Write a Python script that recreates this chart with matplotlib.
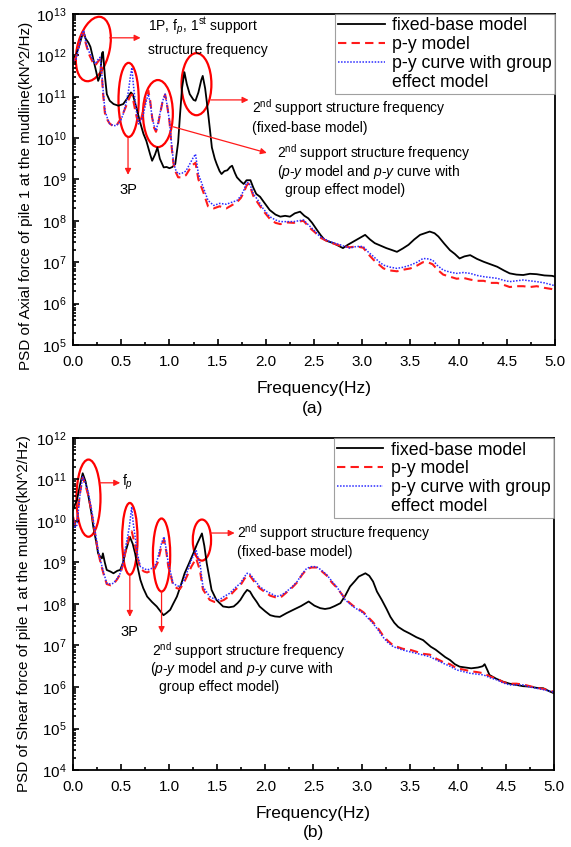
import numpy as np
import matplotlib
matplotlib.use("Agg")
import matplotlib.pyplot as plt
from matplotlib.patches import Ellipse
from matplotlib.lines import Line2D
from matplotlib.ticker import LogLocator, MultipleLocator

plt.rcParams['font.family'] = ['Liberation Sans', 'DejaVu Sans']
plt.rcParams['mathtext.fontset'] = 'custom'
plt.rcParams['mathtext.rm'] = 'Liberation Sans'
plt.rcParams['mathtext.it'] = 'Liberation Sans:italic'
plt.rcParams['mathtext.bf'] = 'Liberation Sans:bold'

axial_freq_fixed = [0.0, 0.03, 0.06, 0.09, 0.11, 0.13, 0.16, 0.18, 0.21, 0.24, 0.26, 0.28, 0.30, 0.31,
                    0.33, 0.35, 0.38, 0.42, 0.47, 0.52, 0.56, 0.60, 0.62, 0.66, 0.70, 0.73, 0.76, 0.80,
                    0.82, 0.85, 0.875, 0.90, 0.94, 0.97, 1.00, 1.03, 1.06, 1.09, 1.11, 1.13, 1.155, 1.18,
                    1.21, 1.25, 1.27, 1.30, 1.33, 1.345, 1.37, 1.39, 1.42, 1.44, 1.47, 1.49, 1.52, 1.54,
                    1.57, 1.60, 1.63, 1.65, 1.68, 1.70, 1.74, 1.77, 1.80, 1.84, 1.87, 1.90, 1.94, 1.98,
                    2.04, 2.10, 2.15, 2.20, 2.25, 2.30, 2.355, 2.40, 2.44, 2.48, 2.53, 2.57, 2.61, 2.65,
                    2.70, 2.75, 2.80, 2.85, 2.91, 2.97, 3.03, 3.08, 3.13, 3.19, 3.25, 3.30, 3.36, 3.42,
                    3.48, 3.54, 3.60, 3.65, 3.70, 3.75, 3.79, 3.85, 3.91, 3.96, 4.01, 4.06, 4.12, 4.19,
                    4.26, 4.33, 4.40, 4.47, 4.53, 4.60, 4.67, 4.74, 4.81, 4.89, 4.97, 5.0]
axial_fixed = [11.9, 12.0, 12.2, 12.45, 12.55, 12.4, 12.3, 12.2, 11.9, 11.6, 11.38, 11.5, 12.05, 12.08,
               11.5, 11.06, 10.9, 10.82, 10.78, 10.82, 10.95, 11.1, 11.05, 10.7, 10.34, 10.1, 9.93, 9.6,
               9.45, 9.6, 9.77, 9.5, 9.29, 9.3, 9.27, 9.3, 9.37, 9.9, 10.58, 11.2, 11.59, 11.3,
               11.06, 10.92, 10.9, 11.1, 11.4, 11.5, 11.2, 10.82, 10.2, 9.77, 9.5, 9.37, 9.2, 9.13,
               9.2, 9.22, 9.3, 9.33, 9.15, 9.05, 8.95, 8.89, 8.98, 8.98, 8.8, 8.65, 8.58, 8.45,
               8.26, 8.15, 8.10, 8.12, 8.10, 8.18, 8.22, 8.12, 8.06, 7.95, 7.78, 7.65, 7.54, 7.5,
               7.46, 7.40, 7.34, 7.42, 7.50, 7.58, 7.66, 7.55, 7.46, 7.4, 7.34, 7.3, 7.25, 7.33,
               7.42, 7.55, 7.66, 7.7, 7.74, 7.7, 7.62, 7.45, 7.29, 7.2, 7.09, 7.14, 7.17, 7.08,
               7.01, 6.95, 6.89, 6.8, 6.73, 6.7, 6.69, 6.72, 6.71, 6.68, 6.67, 6.65]

axial_freq_py = [0.0, 0.03, 0.06, 0.09, 0.11, 0.13, 0.16, 0.18, 0.21, 0.23, 0.26, 0.28, 0.30, 0.31,
                 0.33, 0.36, 0.38, 0.42, 0.45, 0.49, 0.52, 0.555, 0.575, 0.595, 0.61, 0.625, 0.64, 0.66,
                 0.68, 0.71, 0.73, 0.76, 0.78, 0.80, 0.82, 0.84, 0.86, 0.88, 0.90, 0.93, 0.955, 0.975,
                 1.00, 1.02, 1.04, 1.06, 1.09, 1.13, 1.17, 1.21, 1.24, 1.27, 1.30, 1.35, 1.40, 1.46,
                 1.52, 1.59, 1.65, 1.70, 1.74, 1.77, 1.80, 1.82, 1.84, 1.87, 1.92, 1.97, 2.04, 2.10,
                 2.15, 2.22, 2.29, 2.34, 2.39, 2.46, 2.51, 2.56, 2.66, 2.77, 2.87, 2.94, 3.01, 3.06,
                 3.12, 3.17, 3.22, 3.29, 3.36, 3.43, 3.50, 3.57, 3.63, 3.68, 3.73, 3.78, 3.84, 3.91,
                 3.98, 4.05, 4.12, 4.19, 4.26, 4.33, 4.40, 4.47, 4.53, 4.60, 4.67, 4.74, 4.81, 4.89,
                 4.97, 5.0]
axial_py = [11.85, 11.95, 12.25, 12.5, 12.55, 12.3, 12.05, 11.95, 11.8, 11.75, 11.85, 11.9, 11.45, 11.1,
            10.6, 10.42, 10.35, 10.28, 10.3, 10.45, 10.6, 10.8, 10.92, 11.02, 11.05, 10.9, 10.72, 10.5,
            10.35, 10.5, 10.7, 11.0, 11.15, 10.9, 10.5, 10.25, 10.15, 10.3, 10.55, 10.9, 11.05, 10.8,
            10.4, 9.85, 9.4, 9.2, 9.05, 9.05, 9.1, 9.25, 9.35, 9.4, 9.0, 8.7, 8.35, 8.3,
            8.35, 8.3, 8.38, 8.45, 8.55, 8.68, 8.85, 8.9, 8.8, 8.6, 8.42, 8.25, 8.05, 7.95,
            7.92, 7.96, 7.95, 7.98, 8.0, 7.82, 7.72, 7.6, 7.48, 7.4, 7.36, 7.38, 7.35, 7.2,
            7.05, 6.95, 6.85, 6.8, 6.78, 6.82, 6.85, 6.92, 7.0, 7.0, 6.95, 6.82, 6.7, 6.65,
            6.6, 6.62, 6.58, 6.55, 6.55, 6.5, 6.5, 6.45, 6.4, 6.42, 6.42, 6.4, 6.42, 6.38,
            6.35, 6.33]
axial_group = [11.87, 11.9, 12.2, 12.5, 12.6, 12.35, 12.1, 12.03, 11.85, 11.79, 11.9, 11.95, 11.5, 11.2,
               10.66, 10.45, 10.34, 10.3, 10.3, 10.4, 10.58, 10.9, 11.14, 11.5, 11.7, 11.3, 10.98, 10.6,
               10.34, 10.45, 10.58, 10.9, 11.06, 10.85, 10.5, 10.3, 10.18, 10.35, 10.58, 10.9, 11.06, 10.8,
               10.42, 9.9, 9.45, 9.25, 9.13, 9.15, 9.2, 9.37, 9.5, 9.61, 9.13, 8.81, 8.49, 8.37,
               8.42, 8.4, 8.45, 8.49, 8.6, 8.73, 8.93, 8.92, 8.85, 8.65, 8.49, 8.3, 8.10, 8.02,
               7.98, 7.98, 7.98, 8.0, 8.02, 7.86, 7.75, 7.62, 7.50, 7.42, 7.34, 7.38, 7.38, 7.25,
               7.13, 7.02, 6.93, 6.88, 6.85, 6.88, 6.93, 7.0, 7.09, 7.08, 7.05, 6.92, 6.81, 6.76,
               6.73, 6.75, 6.73, 6.68, 6.65, 6.63, 6.61, 6.56, 6.53, 6.55, 6.57, 6.55, 6.53, 6.5,
               6.45, 6.43]

# ---- (b) shear force ----
shear_freq_fixed = [0.0, 0.02, 0.04, 0.07, 0.10, 0.13, 0.16, 0.19, 0.21, 0.24, 0.26, 0.28, 0.30, 0.31,
                    0.33, 0.35, 0.39, 0.42, 0.46, 0.49, 0.52, 0.54, 0.57, 0.59, 0.62, 0.645, 0.67, 0.70,
                    0.73, 0.77, 0.82, 0.87, 0.91, 0.94, 0.97, 1.01, 1.04, 1.08, 1.12, 1.16, 1.20, 1.25,
                    1.29, 1.34, 1.365, 1.39, 1.42, 1.44, 1.49, 1.56, 1.62, 1.67, 1.71, 1.74, 1.78, 1.81,
                    1.84, 1.87, 1.91, 1.94, 2.00, 2.05, 2.10, 2.15, 2.22, 2.29, 2.37, 2.45, 2.51, 2.57,
                    2.62, 2.67, 2.72, 2.78, 2.83, 2.88, 2.93, 2.97, 3.04, 3.08, 3.12, 3.16, 3.21, 3.26,
                    3.30, 3.34, 3.38, 3.44, 3.50, 3.57, 3.64, 3.72, 3.77, 3.82, 3.87, 3.92, 3.97, 4.02,
                    4.08, 4.14, 4.21, 4.26, 4.28, 4.31, 4.33, 4.40, 4.47, 4.54, 4.61, 4.68, 4.75, 4.82,
                    4.89, 4.95, 5.0]
shear_fixed = [10.27, 10.4, 10.5, 10.85, 11.15, 10.95, 10.59, 10.2, 9.86, 9.5, 9.22, 9.15, 9.10, 9.22,
               9.0, 8.82, 8.78, 8.74, 8.8, 8.82, 9.0, 9.22, 9.45, 9.62, 9.45, 9.22, 8.9, 8.58,
               8.38, 8.18, 8.05, 7.94, 7.82, 7.73, 7.78, 7.86, 8.0, 8.18, 8.45, 8.74, 8.95, 9.22,
               9.45, 9.70, 9.4, 8.98, 8.6, 8.34, 8.10, 7.94, 7.92, 7.94, 8.02, 8.10, 8.25, 8.34,
               8.3, 8.18, 8.05, 7.94, 7.82, 7.73, 7.70, 7.69, 7.78, 7.86, 7.95, 8.06, 7.96, 7.90,
               7.88, 7.90, 7.95, 8.02, 8.2, 8.42, 8.55, 8.66, 8.74, 8.68, 8.54, 8.3, 8.10, 7.88,
               7.69, 7.55, 7.45, 7.36, 7.29, 7.2, 7.13, 6.97, 6.9, 6.81, 6.72, 6.65, 6.55, 6.49,
               6.47, 6.45, 6.47, 6.5, 6.55, 6.4, 6.29, 6.2, 6.13, 6.08, 6.05, 6.02, 6.01, 5.98,
               5.97, 5.9, 5.85]

shear_freq_py = [0.0, 0.02, 0.04, 0.07, 0.10, 0.13, 0.16, 0.19, 0.21, 0.24, 0.26, 0.29, 0.32, 0.35,
                 0.39, 0.42, 0.46, 0.49, 0.52, 0.54, 0.565, 0.585, 0.61, 0.625, 0.645, 0.67, 0.70, 0.74,
                 0.77, 0.81, 0.85, 0.88, 0.90, 0.925, 0.946, 0.97, 0.99, 1.02, 1.04, 1.08, 1.11, 1.15,
                 1.18, 1.23, 1.28, 1.30, 1.32, 1.35, 1.42, 1.47, 1.52, 1.57, 1.63, 1.69, 1.74, 1.78,
                 1.81, 1.84, 1.88, 1.94, 2.00, 2.05, 2.12, 2.17, 2.22, 2.28, 2.33, 2.38, 2.43, 2.48,
                 2.53, 2.58, 2.64, 2.69, 2.74, 2.79, 2.83, 2.91, 2.97, 3.02, 3.07, 3.12, 3.17, 3.22,
                 3.27, 3.33, 3.43, 3.50, 3.57, 3.64, 3.71, 3.78, 3.85, 3.92, 3.99, 4.06, 4.13, 4.20,
                 4.27, 4.34, 4.41, 4.47, 4.54, 4.61, 4.68, 4.75, 4.82, 4.90, 4.98, 5.0]
shear_py = [10.1, 9.9, 10.0, 10.65, 11.05, 10.85, 10.6, 10.25, 9.95, 9.55, 9.25, 8.95, 8.7, 8.48,
            8.45, 8.48, 8.6, 8.72, 8.95, 9.2, 9.45, 9.65, 9.75, 9.6, 9.4, 9.1, 8.85, 8.78,
            8.76, 8.8, 8.85, 9.0, 9.2, 9.45, 9.55, 9.25, 8.9, 8.65, 8.45, 8.38, 8.36, 8.5,
            8.65, 8.9, 9.1, 8.95, 8.8, 8.35, 8.1, 8.05, 8.05, 8.1, 8.2, 8.35, 8.45, 8.6,
            8.7, 8.68, 8.55, 8.38, 8.28, 8.2, 8.15, 8.18, 8.28, 8.4, 8.52, 8.7, 8.84, 8.88,
            8.88, 8.8, 8.68, 8.52, 8.4, 8.25, 8.12, 7.96, 7.88, 7.8, 7.68, 7.56, 7.42, 7.25,
            7.12, 7.0, 6.92, 6.9, 6.85, 6.8, 6.78, 6.68, 6.6, 6.55, 6.45, 6.42, 6.38, 6.36,
            6.33, 6.25, 6.2, 6.12, 6.08, 6.08, 6.06, 6.02, 5.98, 5.95, 5.9, 5.88]
shear_group = [10.10, 9.85, 9.9, 10.6, 11.07, 10.9, 10.67, 10.3, 10.02, 9.6, 9.3, 9.0, 8.74, 8.5,
               8.48, 8.5, 8.62, 8.74, 9.0, 9.30, 9.6, 9.86, 10.34, 9.95, 9.62, 9.2, 8.90, 8.85,
               8.82, 8.85, 8.90, 9.1, 9.30, 9.5, 9.62, 9.3, 8.98, 8.7, 8.50, 8.44, 8.42, 8.55,
               8.74, 9.06, 9.30, 9.1, 8.98, 8.42, 8.18, 8.12, 8.10, 8.18, 8.26, 8.4, 8.50, 8.65,
               8.74, 8.72, 8.6, 8.42, 8.32, 8.26, 8.18, 8.22, 8.30, 8.42, 8.54, 8.72, 8.86, 8.9,
               8.90, 8.82, 8.70, 8.55, 8.42, 8.25, 8.10, 7.94, 7.85, 7.78, 7.65, 7.53, 7.38, 7.21,
               7.08, 6.97, 6.89, 6.85, 6.81, 6.77, 6.73, 6.65, 6.57, 6.5, 6.41, 6.37, 6.33, 6.31,
               6.29, 6.22, 6.17, 6.1, 6.05, 6.05, 6.05, 6.0, 5.97, 5.93, 5.89, 5.87]

legend_labels = ['fixed-base model', 'p-y model', 'p-y curve with group', 'effect model']
xticks = [0.0, 0.5, 1.0, 1.5, 2.0, 2.5, 3.0, 3.5, 4.0, 4.5, 5.0]

RED = '#ff1a1a'
BLUE = '#2a2aff'


def style_axes(ax, ymin, ymax):
    ax.set_yscale('log')
    ax.set_xlim(0, 5)
    ax.set_ylim(10.0 ** ymin, 10.0 ** ymax)
    ax.set_xticks(xticks)
    ax.set_xticklabels([f'{t:.1f}' for t in xticks])
    ax.xaxis.set_minor_locator(MultipleLocator(0.25))
    ax.yaxis.set_major_locator(LogLocator(base=10, numticks=100))
    ax.yaxis.set_minor_locator(LogLocator(base=10, subs=np.arange(2, 10), numticks=100))
    ax.tick_params(which='both', direction='in', top=False, right=False, labelsize=11, width=1.2)
    ax.tick_params(which='major', length=4.5)
    ax.tick_params(axis='x', which='major', pad=7)
    ax.tick_params(axis='y', which='major', pad=5)
    ax.tick_params(which='minor', length=2.5)
    for s in ax.spines.values():
        s.set_linewidth(1.3)


def draw_lines(ax, f_fix, fixed, f_py, py, group):
    ax.plot(f_fix, 10.0 ** np.array(fixed), color='black', lw=1.3)
    ax.plot(f_py, 10.0 ** np.array(py), color=RED, lw=1.5, ls=(0, (4, 2.5)))
    ax.plot(f_py, 10.0 ** np.array(group), color=BLUE, lw=1.1, ls=(0, (1, 1)))
    handles = [Line2D([], [], color='black', lw=1.3),
               Line2D([], [], color=RED, lw=1.5, ls=(0, (4, 2.5))),
               Line2D([], [], color=BLUE, lw=1.1, ls=(0, (1, 1))),
               Line2D([], [], color='none')]
    leg = ax.legend(handles, legend_labels, loc='upper right', fontsize=12.8, frameon=True,
                    fancybox=False, borderaxespad=0, handlelength=2.6, handletextpad=0.4,
                    labelspacing=0.1, borderpad=0.2)
    leg.get_frame().set_edgecolor('#888888')
    leg.get_frame().set_linewidth(0.8)


def ellipse(ax, f, e, w, h, ymin, angle=0):
    # f, e: centre in Hz / decade; w, h: size in Hz / decades
    el = Ellipse((f / 5.0, (e - ymin) / 8.0), w / 5.0, h / 8.0, angle=angle,
                 transform=ax.transAxes, fill=False, ec='red', lw=1.6)
    ax.add_patch(el)


def arrow(ax, f0, e0, f1, e1):
    ax.annotate('', xy=(f1, 10.0 ** e1), xytext=(f0, 10.0 ** e0),
                arrowprops=dict(arrowstyle='-|>', color=RED, lw=0.9, mutation_scale=9,
                                shrinkA=0, shrinkB=0))


def note(ax, f, e, s, **kw):
    ax.text(f, 10.0 ** e, s, fontsize=10, va='center', ha='left', **kw)


fig = plt.figure(figsize=(5.71, 8.47), dpi=100)
ax1 = fig.add_axes([0.128, 0.5927, 0.844, 0.391])
ax2 = fig.add_axes([0.128, 0.0909, 0.842, 0.392])

# ---- panel (a) ----
style_axes(ax1, 5, 13)
draw_lines(ax1, axial_freq_fixed, axial_fixed, axial_freq_py, axial_py, axial_group)
ax1.set_ylabel('PSD of Axial force of pile 1 at the mudline(kN^2/Hz)', fontsize=11)
ax1.yaxis.set_label_coords(-0.083, 0.45)
ax1.set_xlabel('Frequency(Hz)', fontsize=12.5)
ax1.xaxis.set_label_coords(0.5, -0.11)

ellipse(ax1, 0.21, 12.15, 0.34, 1.57, 5, angle=-8)
ellipse(ax1, 0.576, 10.92, 0.21, 1.79, 5)
ellipse(ax1, 0.88, 10.59, 0.31, 1.62, 5)
ellipse(ax1, 1.28, 11.3, 0.31, 1.5, 5)

arrow(ax1, 0.38, 12.42, 0.70, 12.42)
note(ax1, 0.78, 12.7, '1P, f$_{\\mathit{p}}$, 1$^{\\mathrm{st}}$ support')
note(ax1, 0.78, 12.13, 'structure frequency')
arrow(ax1, 0.57, 10.02, 0.57, 9.11)
ax1.text(0.57, 10.0 ** 8.74, '3P', fontsize=10.5, ha='center', va='center')
arrow(ax1, 1.04, 10.27, 2.01, 9.64)
note(ax1, 2.12, 9.66, '2$^{\\mathrm{nd}}$ support structure frequency')
note(ax1, 2.12, 9.19, '($\\mathit{p}$-$\\mathit{y}$ model and $\\mathit{p}$-$\\mathit{y}$ curve with')
note(ax1, 2.20, 8.74, 'group effect model)')
arrow(ax1, 1.43, 10.92, 1.82, 10.92)
note(ax1, 1.86, 10.74, '2$^{\\mathrm{nd}}$ support structure frequency')
note(ax1, 1.86, 10.24, '(fixed-base model)')

# ---- panel (b) ----
style_axes(ax2, 4, 12)
draw_lines(ax2, shear_freq_fixed, shear_fixed, shear_freq_py, shear_py, shear_group)
ax2.set_ylabel('PSD of Shear force of pile 1 at the mudline(kN^2/Hz)', fontsize=11)
ax2.yaxis.set_label_coords(-0.088, 0.47)
ax2.set_xlabel('Frequency(Hz)', fontsize=12.5)
ax2.xaxis.set_label_coords(0.5, -0.108)

ellipse(ax2, 0.16, 10.55, 0.25, 1.86, 4)
ellipse(ax2, 0.59, 9.57, 0.16, 1.73, 4)
ellipse(ax2, 0.92, 9.18, 0.18, 1.76, 4)
ellipse(ax2, 1.34, 9.54, 0.19, 0.99, 4)

arrow(ax2, 0.28, 10.92, 0.49, 10.92)
note(ax2, 0.51, 10.92, 'f$_{\\mathit{p}}$')
arrow(ax2, 0.59, 8.70, 0.59, 7.69)
ax2.text(0.59, 10.0 ** 7.33, '3P', fontsize=10.5, ha='center', va='center')
arrow(ax2, 0.92, 8.29, 0.92, 7.30)
note(ax2, 0.82, 6.88, '2$^{\\mathrm{nd}}$ support structure frequency')
note(ax2, 0.80, 6.44, '($\\mathit{p}$-$\\mathit{y}$ model and $\\mathit{p}$-$\\mathit{y}$ curve with')
note(ax2, 0.89, 6.0, 'group effect model)')
arrow(ax2, 1.43, 9.71, 1.68, 9.71)
note(ax2, 1.70, 9.73, '2$^{\\mathrm{nd}}$ support structure frequency')
note(ax2, 1.70, 9.25, '(fixed-base model)')

fig.text(313 / 571, 1 - 408 / 847, '(a)', fontsize=12.5, ha='center', va='center')
fig.text(313 / 571, 1 - 832 / 847, '(b)', fontsize=12.5, ha='center', va='center')

fig.savefig('out.png', dpi=100)
